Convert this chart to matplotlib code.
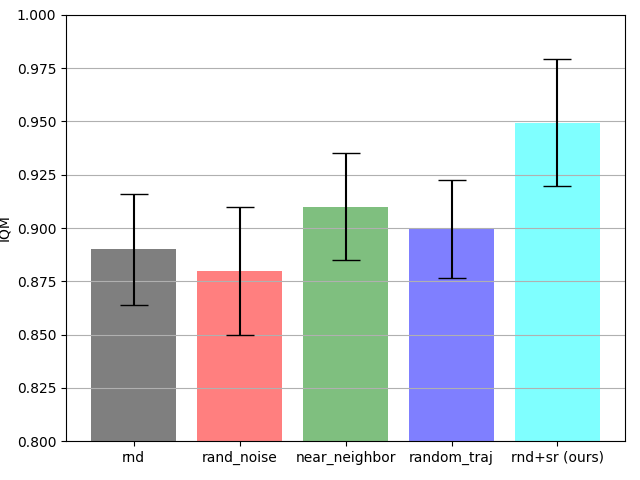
import matplotlib
matplotlib.use("Agg")
import matplotlib.pyplot as plt

methods = ["rnd", "rand_noise", "near_neighbor", "random_traj", "rnd+sr (ours)"]
iqm = [0.890, 0.880, 0.910, 0.8995, 0.9495]
err = [0.026, 0.030, 0.025, 0.023, 0.030]
colors = ["black", "red", "green", "blue", "cyan"]

fig, ax = plt.subplots(figsize=(6.4, 4.8), dpi=100)
ax.bar(methods, iqm, yerr=err, color=colors, alpha=0.5, capsize=10)
ax.set_ylim(0.8, 1.0)
ax.yaxis.grid(True)
fig.subplots_adjust(left=0.103, right=0.977, top=0.969, bottom=0.081)
ax.set_ylabel("IQM")
plt.savefig("out.png")
